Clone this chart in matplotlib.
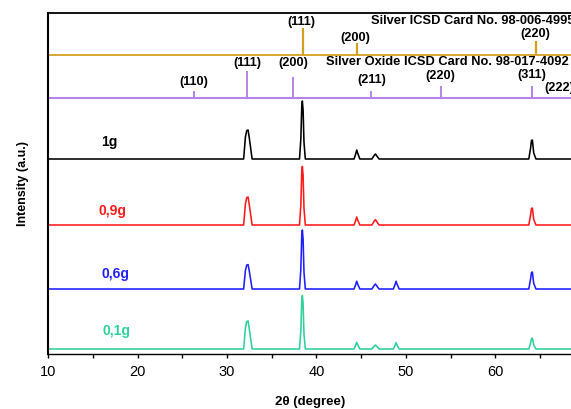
import matplotlib
matplotlib.use("Agg")
import matplotlib.pyplot as plt
from matplotlib.ticker import MultipleLocator

plt.rcParams['font.family'] = ['Liberation Sans', 'DejaVu Sans']

# ---------------- data ----------------
two_theta = [10.0, 31.85, 32.05, 32.2, 32.35, 32.5, 32.8,
             38.1, 38.25, 38.35, 38.42, 38.5, 38.6, 38.75,
             44.2, 44.4, 44.5, 44.6, 44.85,
             46.2, 46.45, 46.6, 46.75, 47.0,
             48.6, 48.8, 48.9, 49.0, 49.25,
             63.75, 63.95, 64.05, 64.15, 64.3, 64.55,
             68.5]

int_1g = [0, 0, 220, 285, 290, 200, 0,
          0, 200, 520, 580, 490, 170, 0,
          0, 55, 90, 60, 0,
          0, 35, 50, 30, 0,
          0, 0, 0, 0, 0,
          0, 110, 185, 190, 60, 0,
          0]
int_09g = [0, 0, 210, 275, 280, 190, 0,
           0, 200, 525, 586, 495, 170, 0,
           0, 50, 80, 52, 0,
           0, 38, 54, 32, 0,
           0, 0, 0, 0, 0,
           0, 100, 165, 170, 55, 0,
           0]
int_06g = [0, 0, 185, 240, 244, 170, 0,
           0, 200, 530, 590, 500, 170, 0,
           0, 48, 78, 50, 0,
           0, 35, 50, 30, 0,
           0, 48, 78, 50, 0,
           0, 100, 165, 170, 55, 0,
           0]
int_01g = [0, 0, 210, 275, 280, 190, 0,
           0, 180, 480, 535, 455, 150, 0,
           0, 40, 68, 45, 0,
           0, 28, 40, 25, 0,
           0, 38, 64, 42, 0,
           0, 60, 104, 108, 40, 0,
           0]

sample_labels = ["1g", "0,9g", "0,6g", "0,1g"]

ag_pos = [38.47, 44.53, 64.6]
ag_int = [273, 117, 140]
ag_hkl = ["(111)", "(200)", "(220)"]

ag2o_pos = [26.3, 32.25, 37.37, 46.15, 53.9, 64.07, 67.2]
ag2o_int = [75, 272, 218, 75, 120, 120, 15]
ag2o_hkl = ["(110)", "(111)", "(200)", "(211)", "(220)", "(311)", "(222)"]

ag_title = "Silver ICSD Card No. 98-006-4995"
ag2o_title = "Silver Oxide ICSD Card No. 98-017-4092"

# ---------------- styling / layout ----------------
colors = ["#000000", "#ff1a1a", "#1f1fff", "#2fd198"]
offsets = [1953, 1293, 653, 53]
label_xy = [(15.9, 2123), (15.65, 1433), (16.0, 803), (16.05, 233)]
ag_color = "#d4a020"
ag2o_color = "#b583e6"
ag_base = 2993
ag2o_base = 2560

fig = plt.figure(figsize=(5.71, 4.09), dpi=100)
ax = fig.add_axes([48.3 / 571, 1 - 354.3 / 409, 1 - 48.3 / 571, (354.3 - 13.3) / 409])

series = [int_1g, int_09g, int_06g, int_01g]
for ys, c, off, lab, (lx, ly) in zip(series, colors, offsets, sample_labels, label_xy):
    ax.plot(two_theta, [v + off for v in ys], color=c, lw=1.15)
    ax.text(lx, ly, lab, color=c, fontsize=10, fontweight='bold', ha='left', va='center')

# Reference patterns
ax.axhline(ag_base, color=ag_color, lw=1.3)
ax.vlines(ag_pos, ag_base, [ag_base + v for v in ag_int], color=ag_color, lw=1.6)
ax.axhline(ag2o_base, color=ag2o_color, lw=1.5)
ax.vlines(ag2o_pos, ag2o_base, [ag2o_base + v for v in ag2o_int], color=ag2o_color, lw=1.4)

ag_label_y = [3326, 3163, 3200]
for p, h, ly in zip(ag_pos, ag_hkl, ag_label_y):
    ax.text(p - 0.15, ly, h, fontsize=9.2, fontweight='bold', ha='center', va='center')
ag2o_label_y = [2723, 2913, 2913, 2743, 2783, 2793, 2663]
for p, h, ly in zip(ag2o_pos, ag2o_hkl, ag2o_label_y):
    ax.text(p, ly, h, fontsize=9.2, fontweight='bold', ha='center', va='center')

ax.text(46.1, 3336, ag_title, fontsize=9.3, fontweight='bold', ha='left', va='center')
ax.text(41.1, 2923, ag2o_title, fontsize=9.3, fontweight='bold', ha='left', va='center')

ax.set_xlim(10, 68.47)
ax.set_ylim(0, 3410)
ax.xaxis.set_major_locator(MultipleLocator(10))
ax.xaxis.set_minor_locator(MultipleLocator(5))
ax.tick_params(axis='x', which='both', direction='out', length=3, width=1, labelsize=10.5, pad=5)
ax.set_yticks([])

ax.spines['right'].set_visible(False)
ax.spines['top'].set_linewidth(1.3)
ax.spines['left'].set_linewidth(1.5)
ax.spines['bottom'].set_linewidth(1.0)

ax.set_xlabel("2θ (degree)", fontsize=9.5, fontweight='bold', labelpad=12)
ax.set_ylabel("Intensity (a.u.)", fontsize=9, fontweight='bold', labelpad=14)

fig.savefig("out.png", dpi=100)
